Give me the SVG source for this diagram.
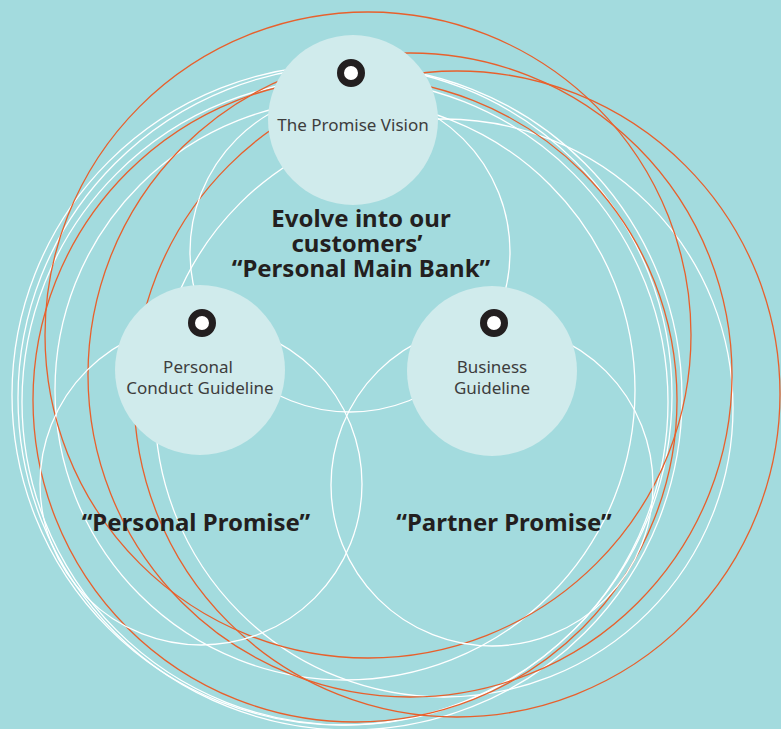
<svg xmlns="http://www.w3.org/2000/svg" width="781" height="729" viewBox="0 0 781 729">
  <style>
    .w { fill: none; stroke: #ffffff; stroke-width: 1.3; }
    .o { fill: none; stroke: #e8602c; stroke-width: 1.3; }
    .node { fill: #d0ebec; }
    .ring { fill: #ffffff; stroke: #231f20; stroke-width: 7; }
    .lbl { font-family: "Noto Sans", "Open Sans", "Liberation Sans", sans-serif; font-size: 17px; fill: #3d3d3d; text-anchor: middle; }
    .big { font-family: "Noto Sans", "Open Sans", "Liberation Sans", sans-serif; font-size: 24px; font-weight: bold; fill: #231f20; text-anchor: middle; }
  </style>
  <rect x="0" y="0" width="781" height="729" fill="#a3dbde"/>

  <g id="orbits">
    <circle class="w" cx="444" cy="408" r="289"/>
    <circle class="w" cx="345" cy="390" r="290"/>
    <circle class="w" cx="342" cy="395" r="330"/>
    <circle class="w" cx="350" cy="398" r="332"/>
    <circle class="w" cx="345" cy="402" r="323"/>
    <circle class="o" cx="457" cy="394" r="323"/>
    <circle class="o" cx="410" cy="375" r="322"/>
    <circle class="o" cx="368" cy="335" r="323"/>
    <circle class="o" cx="355" cy="400" r="322"/>
  </g>

  <g id="venn">
    <circle class="w" cx="350" cy="252" r="160"/>
    <circle class="w" cx="201" cy="484" r="161"/>
    <circle class="w" cx="492" cy="485" r="161"/>
  </g>

  <g id="node-vision">
    <circle class="node" cx="353" cy="120" r="85"/>
    <circle class="ring" cx="351" cy="73" r="10.5"/>
    <text class="lbl" x="353" y="131">The Promise Vision</text>
  </g>

  <g id="node-personal">
    <circle class="node" cx="200" cy="370" r="85"/>
    <circle class="ring" cx="202" cy="323" r="10.5"/>
    <text class="lbl" x="198" y="373">Personal</text>
    <text class="lbl" x="200" y="394">Conduct Guideline</text>
  </g>

  <g id="node-business">
    <circle class="node" cx="492" cy="371" r="85"/>
    <circle class="ring" cx="494" cy="323" r="10.5"/>
    <text class="lbl" x="492" y="373">Business</text>
    <text class="lbl" x="492" y="394">Guideline</text>
  </g>

  <g id="texts">
    <text class="big" x="361" y="227">Evolve into our</text>
    <text class="big" x="357" y="252">customers’</text>
    <text class="big" x="361" y="277">“Personal Main Bank”</text>
    <text class="big" x="196" y="531">“Personal Promise”</text>
    <text class="big" x="504" y="531">“Partner Promise”</text>
  </g>
</svg>
